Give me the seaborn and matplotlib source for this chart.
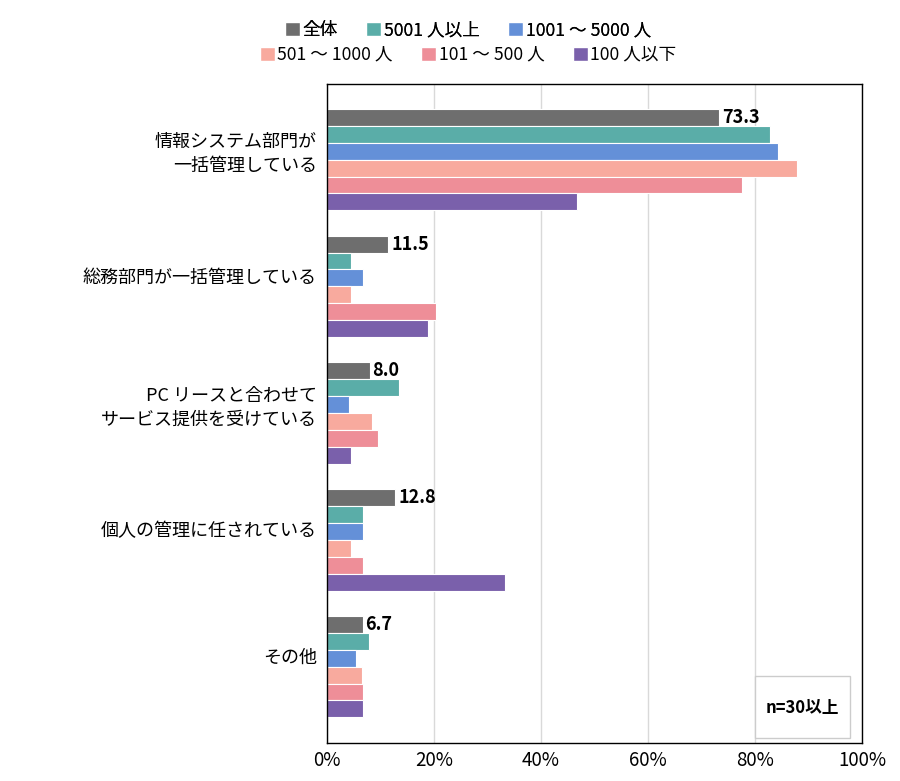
import matplotlib
matplotlib.use("Agg")
import matplotlib.pyplot as plt
import matplotlib.transforms as mtrans
import seaborn as sns
import pandas as pd
from matplotlib.patches import Patch, Rectangle
from matplotlib.ticker import PercentFormatter

categories = ["情報システム部門が\n一括管理している", "総務部門が一括管理している",
              "PC リースと合わせて\nサービス提供を受けている", "個人の管理に任されている", "その他"]
groups = ["全体", "5001 人以上", "1001 ～ 5000 人", "501 ～ 1000 人", "101 ～ 500 人", "100 人以下"]
colors = ["#6e6e6e", "#5aada8", "#6490d8", "#f8aa9e", "#ee8e98", "#7a60ab"]

total = [73.3, 11.5, 8.0, 12.8, 6.7]
over5001 = [82.8, 4.5, 13.5, 6.8, 7.9]
s1001_5000 = [84.3, 6.8, 4.2, 6.8, 5.5]
s501_1000 = [87.8, 4.5, 8.5, 4.5, 6.5]
s101_500 = [77.6, 20.5, 9.6, 6.8, 6.8]
under100 = [46.7, 19.0, 4.5, 33.3, 6.7]

series = [total, over5001, s1001_5000, s501_1000, s101_500, under100]
rows = []
for g, vals in zip(groups, series):
    for c, v in zip(categories, vals):
        rows.append((c, g, v))
df = pd.DataFrame(rows, columns=["category", "group", "value"])

sns.set_style("white")
plt.rcParams["font.family"] = ["Noto Sans CJK JP", "DejaVu Sans"]
plt.rcParams["text.color"] = "black"
plt.rcParams["xtick.color"] = "black"
plt.rcParams["ytick.color"] = "black"

fig = plt.figure(figsize=(9, 7.81), dpi=100)
ax = fig.add_axes([0.363, 0.049, 0.595, 0.844])

sns.barplot(data=df, y="category", x="value", hue="group", order=categories,
            hue_order=groups, palette=colors, saturation=1, orient="h", width=0.8,
            edgecolor="white", linewidth=0.8, ax=ax, legend=False)

ax.set_xlim(0, 100)
ax.set_ylim(4.6, -0.6)
ax.xaxis.set_major_formatter(PercentFormatter(decimals=0))
ax.set_xticks(range(0, 101, 20))
ax.grid(axis="x", color="#d9d9d9", linewidth=1)
ax.set_axisbelow(True)
ax.set_xlabel("")
ax.set_ylabel("")
ax.tick_params(axis="x", labelsize=13.5, length=0, pad=5)
ax.tick_params(axis="y", labelsize=13, length=0, pad=7)
for s in ax.spines.values():
    s.set_visible(True)
    s.set_color("black")
    s.set_linewidth(1)

# labels sit a little above the group centre, with looser line spacing
shift = mtrans.ScaledTranslation(0, 7.5 / 72, fig.dpi_scale_trans)
for lab in ax.get_yticklabels():
    lab.set_linespacing(1.4)
    lab.set_transform(lab.get_transform() + shift)

ax.bar_label(ax.containers[0], fmt="%.1f", padding=2, fontsize=13, fontweight="bold")

ax.add_patch(Rectangle((0.8, 0.0076), 0.1776, 0.094, transform=ax.transAxes,
                       facecolor="white", edgecolor="#cccccc", linewidth=1, zorder=5))
ax.text(0.888, 0.052, "n=30以上", transform=ax.transAxes, ha="center", va="center",
        fontsize=12, fontweight="bold", zorder=6)

handles = [Patch(facecolor=c, label=g) for c, g in zip(colors, groups)]
leg1 = fig.legend(handles=handles[:3], loc="center", bbox_to_anchor=(0.52, 0.961), ncol=3,
                  frameon=False, fontsize=12.7, handlelength=0.85, handleheight=0.85,
                  handletextpad=0.15, columnspacing=1.6)
fig.add_artist(leg1)
fig.legend(handles=handles[3:], loc="center", bbox_to_anchor=(0.52, 0.93), ncol=3,
           frameon=False, fontsize=12.7, handlelength=0.85, handleheight=0.85,
           handletextpad=0.15, columnspacing=1.6)

fig.savefig("out.png", dpi=100)
